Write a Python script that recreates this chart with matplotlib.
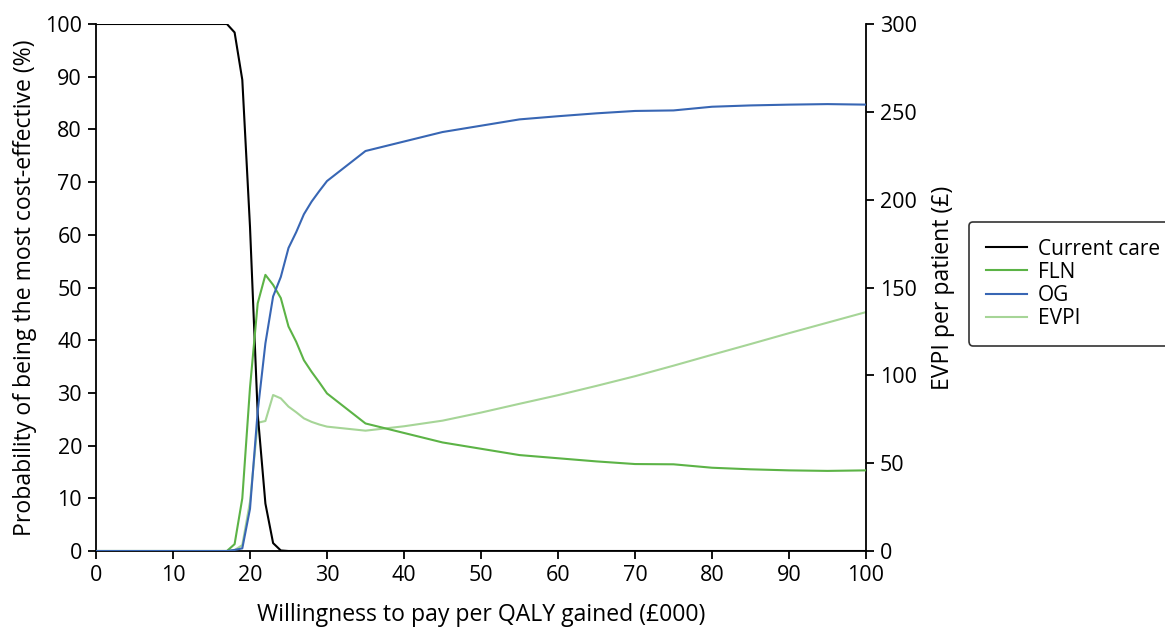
import matplotlib
matplotlib.use("Agg")
import matplotlib.pyplot as plt

plt.rcParams['font.family'] = ['Open Sans', 'DejaVu Sans']

wtp = [0, 5, 10, 15, 16, 17, 18, 19, 20, 21, 22, 23, 24, 25, 26, 27, 28, 29, 30,
       35, 40, 45, 50, 55, 60, 65, 70, 75, 80, 85, 90, 95, 100]
current_care = [100, 100, 100, 100, 100, 100, 98.4, 89.4, 61.5, 26, 9, 1.5, 0.1, 0, 0, 0, 0, 0, 0,
                0, 0, 0, 0, 0, 0, 0, 0, 0, 0, 0, 0, 0, 0]
fln = [0, 0, 0, 0, 0, 0, 1.3, 10, 31, 47, 52.4, 50.5, 48, 42.6, 39.7, 36.2, 34.0, 32, 29.9,
       24.2, 22.4, 20.6, 19.4, 18.2, 17.6, 17.0, 16.5, 16.45, 15.8, 15.5, 15.3, 15.2, 15.3]
og = [0, 0, 0, 0, 0, 0, 0.2, 0.5, 8, 26.5, 39.4, 48.3, 52, 57.5, 60.5, 63.9, 66.3, 68.3, 70.2,
      75.9, 77.7, 79.5, 80.7, 81.9, 82.5, 83.05, 83.5, 83.6, 84.3, 84.55, 84.7, 84.8, 84.7]
evpi = [0, 0, 0, 0, 0, 0, 0.5, 3.4, 28, 73, 74, 88.8, 86.9, 82.2, 79, 75.5, 73.5, 72, 70.8,
        68.5, 71, 74.2, 78.8, 83.8, 88.7, 94, 99.5, 105.5, 111.7, 117.8, 124, 130, 136]

x_ticks = list(range(0, 101, 10))
left_ticks = list(range(0, 101, 10))
right_ticks = list(range(0, 301, 50))

fig = plt.figure(figsize=(11.65, 6.3), dpi=100)
ax = fig.add_axes([96/1165, 1-551/630, (866-96)/1165, (551-24)/630])
ax2 = ax.twinx()

lw = 1.5
l_cc, = ax.plot(wtp, current_care, color='black', lw=lw, label='Current care', zorder=3)
l_fln, = ax.plot(wtp, fln, color='#5cb346', lw=lw, label='FLN', zorder=3)
l_og, = ax.plot(wtp, og, color='#3866b4', lw=lw, label='OG', zorder=3)
l_ev, = ax2.plot(wtp, evpi, color='#a6d597', lw=lw, label='EVPI', zorder=2)

ax.set_xlim(0, 100)
ax.set_ylim(0, 100)
ax2.set_ylim(0, 300)
ax.set_xticks(x_ticks)
ax.set_yticks(left_ticks)
ax2.set_yticks(right_ticks)

tfs = 15.5
lfs = 16.6
for a in (ax, ax2):
    a.tick_params(axis='both', labelsize=tfs, direction='out', length=6, width=1.3,
                  colors='black', pad=4)
    for s in a.spines.values():
        s.set_linewidth(1.3)
    a.spines['top'].set_visible(False)
ax.spines['right'].set_visible(False)
ax2.spines['left'].set_visible(False)
ax2.spines['bottom'].set_visible(False)
ax.set_zorder(ax2.get_zorder() + 1)
ax.patch.set_visible(False)

ax.set_xlabel('Willingness to pay per QALY gained (£000)', fontsize=lfs, labelpad=12)
ax.set_ylabel('Probability of being the most cost-effective (%)', fontsize=lfs, labelpad=6)
ax2.set_ylabel('EVPI per patient (£)', fontsize=lfs, labelpad=10)

leg = fig.legend(handles=[l_cc, l_fln, l_og, l_ev], loc='upper left',
                 bbox_to_anchor=(969/1165, 1-222/630), fontsize=15,
                 frameon=True, fancybox=True, edgecolor='black', handlelength=2.0,
                 labelspacing=0.1, borderpad=0.8, handletextpad=0.5, borderaxespad=0)
leg.get_frame().set_linewidth(1.2)

fig.savefig('out.png', dpi=100)
